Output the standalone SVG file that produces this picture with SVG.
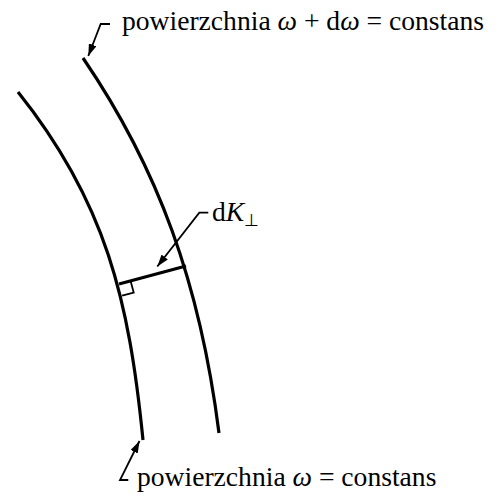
<svg xmlns="http://www.w3.org/2000/svg" width="500" height="497" viewBox="0 0 500 497">
<defs>
<style>
.surf{fill:none;stroke:#000;stroke-width:3.2;stroke-linecap:butt}
.lead{fill:none;stroke:#000;stroke-width:1.8}
.lbl{font-family:"Liberation Serif","Times New Roman",serif;font-size:27.6px;fill:#000}
.it{font-style:italic}
</style>
<marker id="ah" viewBox="0 0 12 8" refX="12" refY="4" markerWidth="12" markerHeight="8" markerUnits="userSpaceOnUse" orient="auto">
<path d="M0,0 L12,4 L0,8 Z" fill="#000"/>
</marker>
</defs>
<rect width="500" height="497" fill="#fff"/>
<g id="surface-omega">
<path class="surf" d="M18,92 C106,202 129,300 143,440"/>
</g>
<g id="surface-omega-domega">
<path class="surf" d="M83,58 C158,168 200,283 219,433"/>
</g>
<g id="dK-segment">
<line class="surf" x1="119" y1="284" x2="186" y2="266"/>
<polyline class="lead" points="130.6,280.9 133.7,292.5 122.1,295.6"/>
</g>
<g id="connectors">
<polyline class="lead" points="110,24 100.7,24 88.3,56" marker-end="url(#ah)"/>
<polyline class="lead" points="208.3,212.7 199.3,212.7 157.3,266.5" marker-end="url(#ah)"/>
<polyline class="lead" points="128.3,480 120,480 139.5,441" marker-end="url(#ah)"/>
</g>
<g id="label-top">
<text class="lbl" x="122" y="30">powierzchnia <tspan class="it">ω</tspan> + d<tspan class="it">ω</tspan> = constans</text>
</g>
<g id="label-dK">
<text class="lbl" x="212" y="221">d<tspan class="it">K</tspan><tspan font-size="17" dy="5">⊥</tspan></text>
</g>
<g id="label-bottom">
<text class="lbl" x="137" y="486">powierzchnia <tspan class="it">ω</tspan> = constans</text>
</g>
</svg>
